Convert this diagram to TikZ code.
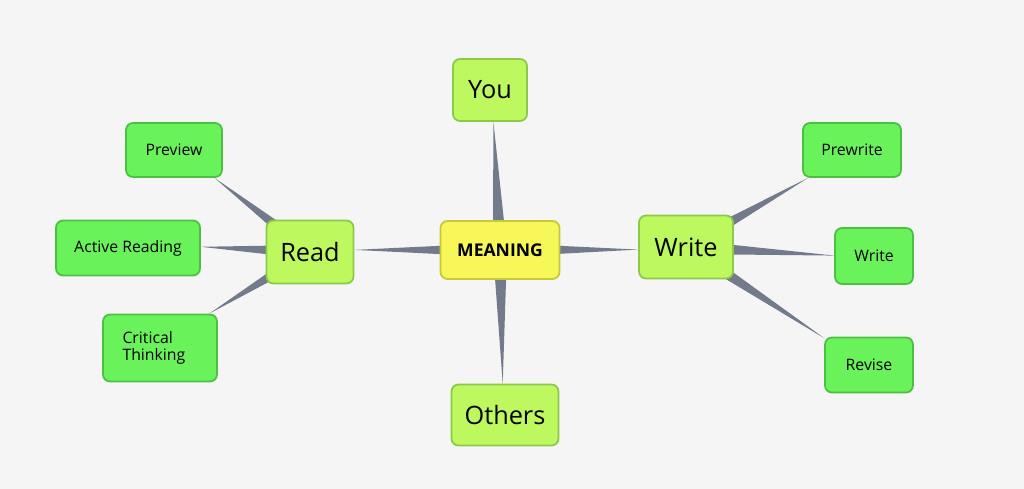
\documentclass[tikz,border=0pt]{standalone}
\usepackage{fontspec}
\setmainfont{Open Sans}
\usetikzlibrary{calc,backgrounds}
\definecolor{bgc}{HTML}{F5F5F5}
\definecolor{linkc}{HTML}{727A8C}
\definecolor{hubc}{HTML}{F7F75A}
\definecolor{hubl}{HTML}{C8C83A}
\definecolor{midc}{HTML}{BDF85E}
\definecolor{midl}{HTML}{8CC84A}
\definecolor{leafc}{HTML}{6AF25A}
\definecolor{leafl}{HTML}{4CC044}
\tikzset{
  box/.style={rounded corners=4pt, line width=1pt, align=left, inner sep=0pt},
  hub/.style={box, fill=hubc, draw=hubl, font=\bfseries},
  mid/.style={box, fill=midc, draw=midl, font=\Large},
  leaf/.style={box, fill=leafc, draw=leafl, font=\small},
  link/.style={fill=linkc}
}
\newcommand{\taper}[2]{\fill[link] ($(#1)!4pt!90:(#2)$) -- ($(#1)!4pt!-90:(#2)$) -- (#2) -- cycle;}
\begin{document}
\begin{tikzpicture}[x=0.02cm, y=-0.02cm]
    \useasboundingbox (0,0) rectangle (1024,489);
    \node[hub, minimum width=2.38cm, minimum height=1.16cm] (M) at (500,250) {MEANING};
    \node[mid, minimum width=1.48cm, minimum height=1.24cm] (Y) at (490,90) {You};
    \node[mid, minimum width=2.14cm, minimum height=1.22cm] (O) at (505,415) {Others};
    \node[mid, minimum width=1.74cm, minimum height=1.26cm] (R) at (310,252) {Read};
    \node[mid, minimum width=1.88cm, minimum height=1.26cm] (W) at (686,247) {Write};
    \node[leaf, minimum width=1.92cm, minimum height=1.08cm] (P) at (174,150) {Preview};
    \node[leaf, minimum width=2.88cm, minimum height=1.10cm] (A) at (128,248) {Active Reading};
    \node[leaf, minimum width=2.28cm, minimum height=1.34cm, text width=1.5cm] (C) at (160,348) {Critical\\[-1pt]Thinking};
    \node[leaf, minimum width=1.96cm, minimum height=1.08cm] (PW) at (852,150) {Prewrite};
    \node[leaf, minimum width=1.56cm, minimum height=1.12cm] (WS) at (874,256) {Write};
    \node[leaf, minimum width=1.76cm, minimum height=1.10cm] (RV) at (869,365) {Revise};
    \begin{scope}[on background layer]
        \fill[bgc] (0,0) rectangle (1024,489);
        \taper{M}{Y}
        \taper{M}{O}
        \taper{M}{R}
        \taper{M}{W}
        \taper{R}{P}
        \taper{R}{A}
        \taper{R}{C}
        \taper{W}{PW}
        \taper{W}{WS}
        \taper{W}{RV}
    \end{scope}
\end{tikzpicture}
\end{document}
